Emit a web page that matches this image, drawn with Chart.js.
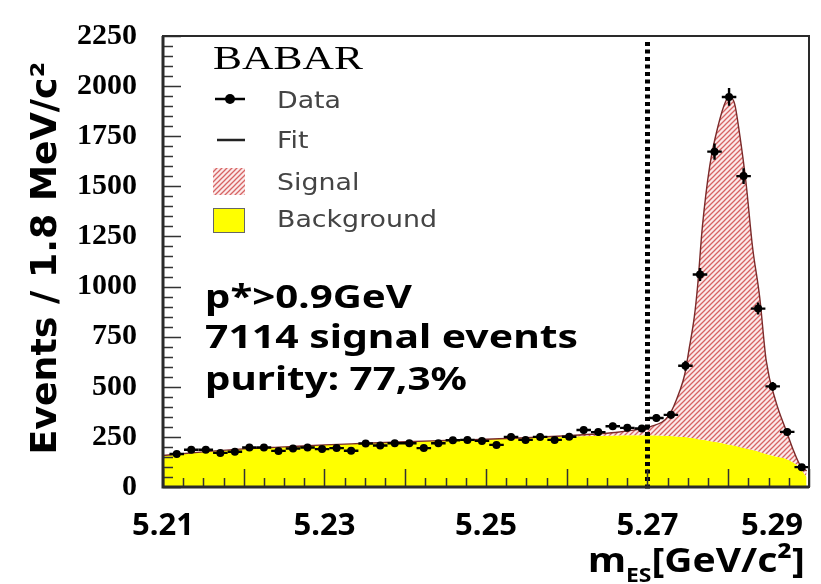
<!DOCTYPE html>
<html>
<head>
<meta charset="utf-8">
<script src="https://cdn.jsdelivr.net/npm/chart.js@4.4.1/dist/chart.umd.min.js"></script>
<style>
  html, body { margin: 0; padding: 0; background: #fff; }
  #wrap { width: 821px; height: 584px; }
</style>
</head>
<body>
<div id="wrap"><canvas id="mesChart" width="821" height="584"></canvas></div>
<script>
// bin centres (GeV) and events per 1.8 MeV bin
var dataMass = [5.2117, 5.2135, 5.2153, 5.2171, 5.2189, 5.2207, 5.2225, 5.2243, 5.2261, 5.2279,
                5.2297, 5.2315, 5.2333, 5.2351, 5.2369, 5.2387, 5.2405, 5.2423, 5.2441, 5.2459,
                5.2477, 5.2495, 5.2513, 5.2531, 5.2549, 5.2567, 5.2585, 5.2603, 5.2621, 5.2639,
                5.2657, 5.2675, 5.2693, 5.2711, 5.2729, 5.2747, 5.2765, 5.2783, 5.2801, 5.2819,
                5.2837, 5.2855, 5.2873, 5.2891];
var dataEvents = [165, 186, 186, 170, 176, 197, 197, 180, 192, 197,
                  189, 194, 181, 217, 207, 218, 218, 194, 218, 233,
                  235, 230, 210, 250, 235, 250, 235, 251, 284, 274,
                  303, 295, 292, 344, 360, 605, 1060, 1673, 1946, 1551,
                  890, 502, 275, 99];

// fit curves
var fitMass = [5.21, 5.215, 5.22, 5.225, 5.23, 5.235, 5.24, 5.245, 5.25, 5.255,
               5.26, 5.263, 5.266, 5.2685, 5.2703, 5.2727, 5.274, 5.2746, 5.2752, 5.2758,
               5.2762, 5.2768, 5.2777, 5.2787, 5.2797, 5.2802, 5.2808, 5.2814, 5.2822, 5.283,
               5.2839, 5.2847, 5.2859, 5.2872, 5.288, 5.2888, 5.2897];
var fitBackground = [157, 175, 190, 200, 210, 218, 226, 232, 238, 245,
                     252, 255, 257, 258, 258, 255, 251, 249, 246, 243,
                     240, 236, 230, 223, 215, 211, 206, 200, 192, 184,
                     175, 165, 152, 140, 124, 100, 50];
var fitTotal = [157, 175, 190, 200, 210, 218, 226, 232, 238, 246,
                256, 263, 272, 285, 300, 360, 480, 560, 700, 850,
                1000, 1300, 1600, 1795, 1926, 1945, 1910, 1763, 1518, 1200,
                945, 630, 426, 279, 190, 116, 80];

var yTickValues = [0, 250, 500, 750, 1000, 1250, 1500, 1750, 2000, 2250];
var xTickValues = [5.21, 5.23, 5.25, 5.27, 5.29];
var xTickLabels = ['5.21', '5.23', '5.25', '5.27', '5.29'];
var cutMass = 5.27;
var halfBin = 0.0009;
var infoLines = ['p*>0.9GeV', '7114 signal events', 'purity: 77,3%'];
var legendLabels = ['Data', 'Fit', 'Signal', 'Background'];

function hatchPattern() {
    var c = document.createElement('canvas');
    c.width = 5; c.height = 5;
    var g = c.getContext('2d');
    g.fillStyle = '#fbeaea';
    g.fillRect(0, 0, 5, 5);
    g.strokeStyle = '#d66464';
    g.lineWidth = 1.3;
    g.beginPath();
    g.moveTo(0, 5); g.lineTo(5, 0);
    g.moveTo(-2.5, 2.5); g.lineTo(2.5, -2.5);
    g.moveTo(2.5, 7.5); g.lineTo(7.5, 2.5);
    g.stroke();
    return g.createPattern(c, 'repeat');
}
var hatch = hatchPattern();

function pairs(xs, ys) {
    return xs.map(function (x, i) { return {x: x, y: ys[i]}; });
}

// squeeze/stretch a string horizontally so it fills the given width
function fitText(ctx, text, x, y, width, align) {
    var w = ctx.measureText(text).width;
    ctx.save();
    ctx.translate(x, y);
    ctx.scale(width / w, 1);
    ctx.textAlign = 'left';
    var ox = align === 'right' ? -w : (align === 'center' ? -w / 2 : 0);
    ctx.fillText(text, ox, 0);
    ctx.restore();
}

var decorPlugin = {
    id: 'decor',
    afterDatasetsDraw: function (chart) {
        var ctx = chart.ctx, xs = chart.scales.x, ys = chart.scales.y, area = chart.chartArea;
        // error bars
        ctx.save();
        ctx.strokeStyle = '#000';
        ctx.lineWidth = 2.4;
        dataMass.forEach(function (m, i) {
            var v = dataEvents[i];
            var px = xs.getPixelForValue(m), py = ys.getPixelForValue(v);
            var x0 = xs.getPixelForValue(m - halfBin), x1 = xs.getPixelForValue(m + halfBin);
            var e = Math.sqrt(v); // poisson
            ctx.beginPath();
            ctx.moveTo(x0, py); ctx.lineTo(x1, py);
            ctx.moveTo(px, ys.getPixelForValue(v - e)); ctx.lineTo(px, ys.getPixelForValue(v + e));
            ctx.stroke();
        });
        ctx.restore();

        // dashed cut line
        var cx = xs.getPixelForValue(cutMass);
        ctx.save();
        ctx.strokeStyle = '#000';
        ctx.lineWidth = 5;
        ctx.setLineDash([4, 3.5]);
        ctx.beginPath();
        ctx.moveTo(cx, area.top + 6);
        ctx.lineTo(cx, area.bottom + 5);
        ctx.stroke();
        ctx.restore();
    },
    afterDraw: function (chart) {
        var ctx = chart.ctx, xs = chart.scales.x, ys = chart.scales.y, area = chart.chartArea;
        ctx.save();

        // inner ticks
        ctx.strokeStyle = '#333';
        ctx.lineWidth = 1.5;
        ctx.beginPath();
        for (var v = 0; v <= 2250; v += 50) {
            var py = Math.round(ys.getPixelForValue(v)) + 0.5;
            ctx.moveTo(area.left, py);
            ctx.lineTo(area.left + (v % 250 === 0 ? 18 : 10), py);
        }
        for (var i = 0; i <= 32; i++) {
            var px = Math.round(xs.getPixelForValue(5.21 + i * 0.0025)) + 0.5;
            ctx.moveTo(px, area.bottom);
            ctx.lineTo(px, area.bottom - (i % 4 === 0 ? 18 : 9));
        }
        ctx.stroke();

        // frame
        ctx.strokeStyle = '#2a2a2a';
        ctx.lineWidth = 2;
        ctx.strokeRect(area.left, area.top, area.right - area.left, area.bottom - area.top);
        ctx.lineWidth = 3;
        ctx.beginPath();
        ctx.moveTo(area.left, area.top);
        ctx.lineTo(area.left, area.bottom);
        ctx.lineTo(area.right, area.bottom);
        ctx.stroke();

        ctx.fillStyle = '#000';
        ctx.textBaseline = 'alphabetic';

        // x tick labels
        ctx.font = 'bold 31px "Noto Sans"';
        xTickValues.forEach(function (t, k) {
            var w = ctx.measureText(xTickLabels[k]).width;
            var cxp = Math.min(xs.getPixelForValue(t), 803 - w / 2);
            ctx.textAlign = 'center';
            ctx.fillText(xTickLabels[k], cxp, 535);
        });

        // x title  m_ES[GeV/c²]
        ctx.font = 'bold 34px "Noto Sans"';
        var w1 = ctx.measureText('m').width;
        var w3 = ctx.measureText('[GeV/c\u00b2]').width;
        ctx.font = 'bold 20px "Noto Sans"';
        var w2 = ctx.measureText('ES').width;
        var sx = 217 / (w1 + w2 + w3);
        ctx.save();
        ctx.translate(805 - 217, 572);
        ctx.scale(sx, 1);
        ctx.textAlign = 'left';
        ctx.font = 'bold 34px "Noto Sans"';
        ctx.fillText('m', 0, 0);
        ctx.fillText('[GeV/c\u00b2]', w1 + w2, 0);
        ctx.font = 'bold 20px "Noto Sans"';
        ctx.fillText('ES', w1, 10);
        ctx.restore();

        // y title
        ctx.save();
        ctx.translate(56, 258);
        ctx.rotate(-Math.PI / 2);
        ctx.font = 'bold 36px "DejaVu Sans"';
        fitText(ctx, 'Events / 1.8 MeV/c\u00b2', 0, 0, 393, 'center');
        ctx.restore();

        // BABAR
        ctx.font = '34px "Liberation Serif"';
        fitText(ctx, 'BABAR', 213, 69, 150, 'left');

        // legend
        ctx.strokeStyle = '#000';
        ctx.lineWidth = 2.5;
        ctx.beginPath();
        ctx.moveTo(215, 99); ctx.lineTo(245, 99);
        ctx.stroke();
        ctx.beginPath();
        ctx.arc(230, 99, 5, 0, Math.PI * 2);
        ctx.fill();
        ctx.strokeStyle = '#222';
        ctx.beginPath();
        ctx.moveTo(217, 140); ctx.lineTo(245, 140);
        ctx.stroke();
        ctx.fillStyle = hatch;
        ctx.fillRect(213, 168, 32, 27);
        ctx.fillStyle = '#ffff00';
        ctx.fillRect(213, 208, 32, 25);
        ctx.strokeStyle = '#666';
        ctx.lineWidth = 1;
        ctx.strokeRect(213.5, 208.5, 31, 24);

        ctx.fillStyle = '#444';
        ctx.font = '23px "DejaVu Sans"';
        var legendY = [108, 148, 190, 227];
        var stretch = 160 / ctx.measureText('Background').width;
        legendLabels.forEach(function (t, k) {
            fitText(ctx, t, 277, legendY[k], ctx.measureText(t).width * stretch, 'left');
        });

        // info text
        ctx.fillStyle = '#000';
        ctx.font = 'bold 32px "Noto Sans"';
        var infoY = [308, 348, 390];
        var infoW = [207, 373, 262];
        infoLines.forEach(function (t, k) {
            fitText(ctx, t, 205, infoY[k], infoW[k], 'left');
        });

        ctx.restore();
    }
};

new Chart(document.getElementById('mesChart'), {
    type: 'line',
    data: {
        datasets: [{
            label: 'Data',
            data: pairs(dataMass, dataEvents),
            showLine: false,
            pointRadius: 4,
            pointBackgroundColor: '#000',
            pointBorderWidth: 0
        }, {
            label: 'Fit',
            data: pairs(fitMass, fitTotal),
            borderColor: '#7a2a2a',
            borderWidth: 1.4,
            backgroundColor: hatch,
            fill: '+1',
            pointRadius: 0,
            cubicInterpolationMode: 'monotone'
        }, {
            label: 'Background',
            data: pairs(fitMass, fitBackground),
            borderWidth: 0,
            borderColor: 'rgba(0,0,0,0)',
            backgroundColor: '#ffff00',
            fill: 'origin',
            pointRadius: 0,
            cubicInterpolationMode: 'monotone'
        }]
    },
    options: {
        responsive: false,
        animation: false,
        devicePixelRatio: 1,
        layout: { padding: { top: 27, right: 12, left: 0, bottom: 0 } },
        plugins: {
            legend: { display: false },
            tooltip: { enabled: false }
        },
        scales: {
            x: {
                type: 'linear',
                min: 5.21,
                max: 5.29,
                grid: { display: false },
                border: { display: false },
                ticks: { display: false },
                afterFit: function (scale) { scale.height = 97; }
            },
            y: {
                min: 0,
                max: 2250,
                grid: { display: false },
                border: { display: false },
                ticks: {
                    padding: 18,
                    color: '#000',
                    font: { family: 'Liberation Serif', weight: 'bold', size: 30 },
                    callback: function (value) { return String(value); }
                },
                afterBuildTicks: function (scale) {
                    scale.ticks = yTickValues.map(function (v) { return {value: v}; });
                },
                afterFit: function (scale) { scale.width = 163; }
            }
        }
    },
    plugins: [decorPlugin]
});
</script>
</body>
</html>
